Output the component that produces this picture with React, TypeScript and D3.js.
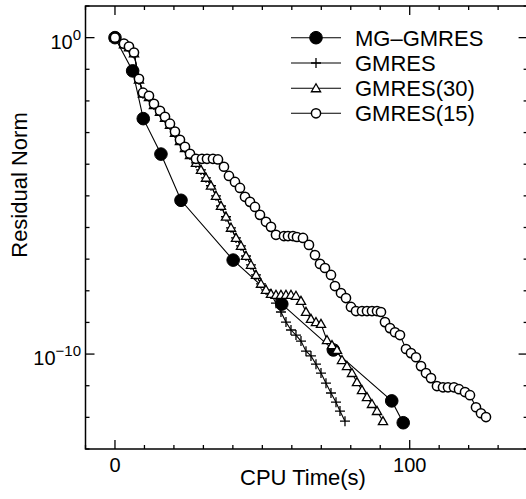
import React from "react";
import * as d3 from "d3";

// CPU time (s) and log10 of residual norm
const mgTime = [0, 6.0, 9.6, 15.6, 22.4, 40.1, 56.6, 74.1, 93.9, 97.8];
const mgLogRes = [0, -1.05, -2.56, -3.68, -5.14, -7.03, -8.42, -9.87, -11.48, -12.17];

const sharedTime = [0, 3.05, 4.75, 6.45, 8.14, 9.5, 11.54, 13.23, 15.27, 16.97, 18.66, 20.36, 22.05, 23.75, 25.45, 27.48, 29.18, 30.88, 32.57, 34.27, 35.97, 37.66, 39.36, 41.06, 42.75, 44.45, 46.14, 47.84, 49.54, 51.23, 52.93];
const sharedLogRes = [0, -0.21, -0.31, -0.5, -1.33, -1.77, -1.88, -2.13, -2.35, -2.54, -2.76, -3.01, -3.27, -3.49, -3.71, -3.96, -4.18, -4.43, -4.68, -5.0, -5.32, -5.66, -6.01, -6.33, -6.58, -6.9, -7.18, -7.5, -7.78, -7.97, -8.1];

const gmresTailTime = [54.63, 56.32, 58.02, 59.72, 61.41, 63.11, 64.81, 66.5, 68.2, 69.9, 71.59, 73.29, 74.99, 76.34, 78.04];
const gmresTailLogRes = [-8.39, -8.67, -8.99, -9.24, -9.4, -9.59, -9.91, -10.06, -10.32, -10.6, -10.92, -11.23, -11.52, -11.8, -12.12];

const gmres30TailTime = [54.63, 56.32, 58.02, 59.72, 61.41, 63.11, 64.81, 66.5, 68.2, 69.9, 71.93, 73.63, 75.32, 77.02, 78.72, 80.41, 82.11, 83.81, 85.5, 87.2, 88.9, 90.93];
const gmres30TailLogRes = [-8.13, -8.13, -8.13, -8.13, -8.16, -8.32, -8.67, -8.89, -8.99, -9.05, -9.56, -9.72, -9.87, -10.19, -10.38, -10.6, -10.89, -11.14, -11.36, -11.58, -11.8, -12.12];

const gmres15Time = [0, 3.05, 4.75, 6.45, 8.14, 9.5, 11.54, 13.23, 15.27, 16.97, 18.66, 20.36, 22.05, 23.75, 25.45, 27.48, 29.52, 31.22, 33.25, 34.95, 36.98, 38.68, 40.72, 42.41, 44.11, 45.81, 47.5, 49.2, 51.23, 52.93, 54.63, 57.34, 58.7, 60.4, 61.75, 63.79, 65.82, 67.86, 69.56, 71.25, 73.29, 74.65, 76.68, 78.38, 80.07, 81.77, 83.81, 85.5, 87.2, 88.9, 90.25, 91.61, 93.31, 95.0, 96.7, 98.74, 100.43, 102.13, 103.83, 105.52, 107.22, 109.25, 111.29, 112.99, 115.02, 116.72, 118.76, 120.45, 122.49, 124.18, 125.88];
const gmres15LogRes = [0, -0.19, -0.28, -0.47, -1.3, -1.74, -1.84, -2.09, -2.31, -2.5, -2.72, -2.97, -3.23, -3.45, -3.67, -3.83, -3.83, -3.83, -3.83, -3.85, -4.08, -4.37, -4.56, -4.75, -5.03, -5.19, -5.35, -5.6, -5.82, -5.98, -6.23, -6.27, -6.27, -6.27, -6.3, -6.33, -6.55, -6.87, -7.15, -7.28, -7.5, -7.85, -8.07, -8.23, -8.51, -8.64, -8.64, -8.64, -8.64, -8.64, -8.67, -8.99, -9.18, -9.31, -9.4, -9.84, -9.97, -10.1, -10.38, -10.6, -10.76, -11.01, -11.05, -11.05, -11.05, -11.11, -11.2, -11.3, -11.68, -11.87, -11.99];

const legendLabels = ["MG\u2013GMRES", "GMRES", "GMRES(30)", "GMRES(15)"];
const xMajorTicks = [0, 100];
const xTitle = "CPU Time(s)";
const yTitle = "Residual Norm";

type Pt = { t: number; r: number };
const toPts = (t: number[], l: number[]): Pt[] => t.map((v, i) => ({ t: v, r: Math.pow(10, l[i]) }));

const W = 526;
const H = 499;
const FONT = "'Liberation Sans', Arial, Helvetica, sans-serif";

export default function App() {
  const x = d3.scaleLinear().domain([-10, 140]).range([85.5, 527.6]);
  const y = d3.scaleLog().domain([1e-13, 1e1]).range([449, 6]);
  const left = x(-10), right = x(140), top = y(1e1), bottom = y(1e-13);

  const series = [
    { name: legendLabels[0], kind: "filled", pts: toPts(mgTime, mgLogRes) },
    { name: legendLabels[1], kind: "plus", pts: toPts(sharedTime.concat(gmresTailTime), sharedLogRes.concat(gmresTailLogRes)) },
    { name: legendLabels[2], kind: "tri", pts: toPts(sharedTime.concat(gmres30TailTime), sharedLogRes.concat(gmres30TailLogRes)) },
    { name: legendLabels[3], kind: "open", pts: toPts(gmres15Time, gmres15LogRes) },
  ];

  const line = d3.line<Pt>().x((d) => x(d.t)).y((d) => y(d.r));

  const marker = (kind: string, cx: number, cy: number, key: string | number) => {
    if (kind === "filled") return <circle key={key} cx={cx} cy={cy} r={6.3} fill="#000" stroke="#000" strokeWidth={1} />;
    if (kind === "open") return <circle key={key} cx={cx} cy={cy} r={4.6} fill="#fff" stroke="#000" strokeWidth={1.5} />;
    if (kind === "tri") {
      const s = 4.6;
      const p = `M${cx},${cy - s}L${cx + s},${cy + s * 0.75}L${cx - s},${cy + s * 0.75}Z`;
      return <path key={key} d={p} fill="#fff" stroke="#000" strokeWidth={1.3} />;
    }
    const a = 5;
    return <path key={key} d={`M${cx - a},${cy}H${cx + a}M${cx},${cy - a}V${cy + a}`} stroke="#000" strokeWidth={1.3} fill="none" />;
  };

  const xMinor = d3.range(-10, 141, 10);
  const yDecades = d3.range(-13, 2).map((e) => Math.pow(10, e));
  const yMajor = [1, 1e-10];

  const legendY = [37.7, 63, 88.3, 113.3];

  return (
    <svg width={W} height={H} style={{ position: "absolute", left: 0, top: 0, background: "#fff" }} fontFamily={FONT}>
      <rect x={0} y={0} width={W} height={H} fill="#fff" />
      {/* ticks */}
      <g stroke="#000" strokeWidth={1.3}>
        {xMinor.map((v) => {
          const major = xMajorTicks.includes(v);
          const len = major ? 9 : 4;
          return (
            <g key={"xt" + v}>
              <line x1={x(v)} x2={x(v)} y1={bottom} y2={bottom - len} />
              <line x1={x(v)} x2={x(v)} y1={top} y2={top + len} />
            </g>
          );
        })}
        {yDecades.map((v) => {
          const major = yMajor.some((m) => Math.abs(Math.log10(m) - Math.log10(v)) < 1e-6);
          const len = major ? 9 : 4;
          return (
            <g key={"yt" + v}>
              <line x1={left} x2={left + len} y1={y(v)} y2={y(v)} />
              <line x1={right} x2={right - len} y1={y(v)} y2={y(v)} />
            </g>
          );
        })}
      </g>
      {/* frame */}
      <rect x={left} y={top} width={right - left} height={bottom - top} fill="none" stroke="#000" strokeWidth={1.5} />
      {/* tick labels */}
      {xMajorTicks.map((v) => (
        <text key={"xl" + v} x={x(v)} y={472} textAnchor="middle" fontSize={20} fill="#000">{v}</text>
      ))}
      {yMajor.map((v) => (
        <text key={"yl" + v} x={81} y={y(v) + 11} textAnchor="end" fontSize={20} fill="#000">
          10
          <tspan dy={-9} fontSize={15}>{Math.round(Math.log10(v)) === 0 ? "0" : "\u2212" + Math.abs(Math.round(Math.log10(v)))}</tspan>
        </text>
      ))}
      {/* axis titles */}
      <text x={303} y={485} textAnchor="middle" fontSize={22} fill="#000">{xTitle}</text>
      <text transform={`translate(27,185) rotate(-90)`} textAnchor="middle" fontSize={22} fill="#000">{yTitle}</text>
      {/* series */}
      <g>
        {series.map((s, si) => (
          <g key={"s" + si}>
            <path d={line(s.pts) || ""} fill="none" stroke="#000" strokeWidth={1.1} />
            {s.pts.map((p, i) => marker(s.kind, x(p.t), y(p.r), si + "-" + i))}
          </g>
        ))}
      </g>
      {/* legend */}
      {series.map((s, i) => (
        <g key={"lg" + i}>
          <line x1={291} x2={341} y1={legendY[i]} y2={legendY[i]} stroke="#000" strokeWidth={1.1} />
          {marker(s.kind, 316, legendY[i], "lm" + i)}
          <text x={355} y={legendY[i] + 8} fontSize={22} fill="#000">{s.name}</text>
        </g>
      ))}
    </svg>
  );
}
